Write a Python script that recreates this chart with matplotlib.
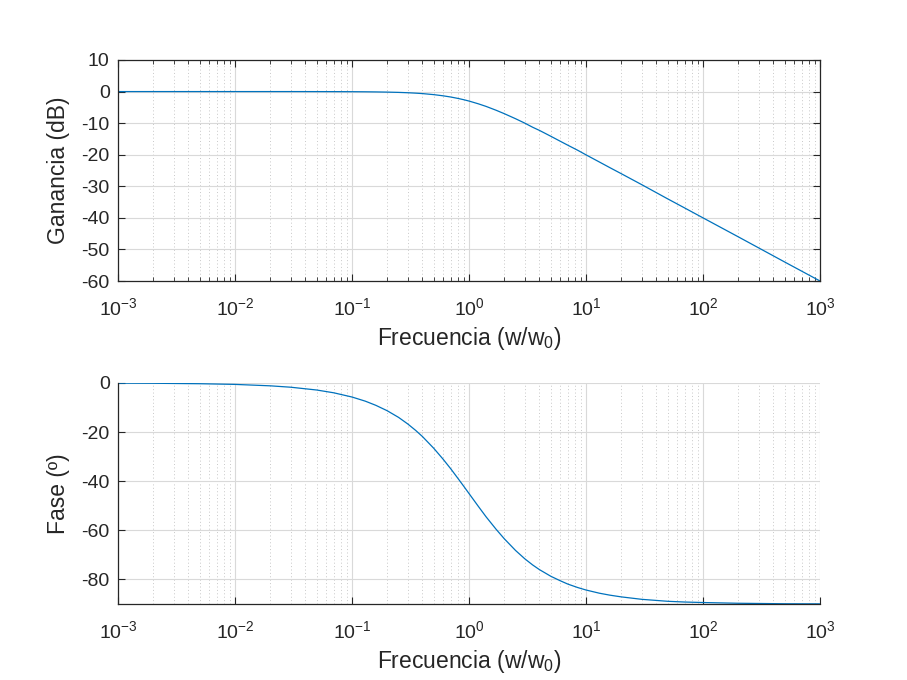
#!/usr/bin/env python3
"""
Diagrama de Bode de un filtro paso bajo de primer orden
"""

import matplotlib
matplotlib.use('Agg')
import matplotlib.pyplot as plt
from matplotlib.ticker import LogLocator, NullFormatter

frecuencia = [1e-3, 2e-3, 5e-3, 1e-2, 2e-2, 3e-2, 0.05, 0.07, 0.1, 0.13, 0.16,
              0.2, 0.25, 0.3, 0.35, 0.4, 0.5, 0.6, 0.7, 0.8, 0.9, 1.0, 1.2,
              1.4, 1.7, 2.0, 2.5, 3.0, 3.5, 4.0, 5.0, 6.0, 7.0, 8.5, 10.0,
              13.0, 16.0, 20.0, 30.0, 50.0, 70.0, 100.0, 200.0, 500.0, 1000.0]
ganancia_db = [0.0, 0.0, 0.0, 0.0, 0.0, 0.0, -0.01, -0.02, -0.04, -0.07,
               -0.11, -0.17, -0.26, -0.37, -0.5, -0.64, -0.97, -1.34, -1.73,
               -2.15, -2.57, -3.0, -3.87, -4.7, -5.9, -6.99, -8.6, -10.0,
               -11.3, -12.3, -14.15, -15.7, -17.0, -18.6, -20.04, -22.3, -24.1,
               -26.0, -29.5, -34.0, -36.9, -40.0, -46.0, -54.0, -60.0]
fase_grados = [-0.06, -0.11, -0.29, -0.57, -1.15, -1.72, -2.86, -4.0, -5.71,
               -7.4, -9.1, -11.3, -14.0, -16.7, -19.3, -21.8, -26.6, -31.0,
               -35.0, -38.7, -42.0, -45.0, -50.2, -54.5, -59.5, -63.4, -68.2,
               -71.6, -74.1, -76.0, -78.7, -80.5, -81.9, -83.3, -84.3, -85.6,
               -86.4, -87.1, -88.1, -88.9, -89.2, -89.4, -89.7, -89.9, -89.94]

plt.rcParams['font.family'] = ['Liberation Sans', 'DejaVu Sans']
plt.rcParams['mathtext.default'] = 'regular'
plt.rcParams['axes.unicode_minus'] = False
plt.rcParams['font.size'] = 14

color_linea = '#0072BD'
color_ejes = '#262626'

fig = plt.figure(figsize=(9.07, 6.8), dpi=100)
ax1 = fig.add_axes([118 / 907, 1 - 281 / 680, 702 / 907, 221 / 680])
ax2 = fig.add_axes([118 / 907, 1 - 604 / 680, 702 / 907, 221 / 680])

for ax in (ax1, ax2):
    ax.set_xscale('log')
    ax.set_xlim(1e-3, 1e3)
    ax.xaxis.set_major_locator(LogLocator(base=10, numticks=10))
    ax.xaxis.set_minor_locator(LogLocator(base=10, subs=range(2, 10), numticks=20))
    ax.xaxis.set_minor_formatter(NullFormatter())
    ax.grid(True, which='major', color='#d9d9d9', linewidth=0.8, linestyle='-')
    ax.grid(True, which='minor', axis='x', color='#c8c8c8', linewidth=0.7,
            linestyle=(0, (1, 2.5)))
    ax.set_axisbelow(True)
    ax.set_xlabel('Frecuencia (w/w$_0$)', color=color_ejes, fontsize=16.5,
                  labelpad=4)
    ax.tick_params(which='both', direction='in', colors=color_ejes, labelsize=14)
    ax.tick_params(axis='x', which='major', pad=12)
    ax.tick_params(axis='y', which='major', pad=6)
    for sp in ax.spines.values():
        sp.set_color(color_ejes)
        sp.set_linewidth(0.9)

# Ganancia
ax1.plot(frecuencia, ganancia_db, color=color_linea, linewidth=0.9)
ax1.set_ylim(-60, 10)
ax1.set_yticks(range(-60, 11, 10))
ax1.set_ylabel('Ganancia (dB)', color=color_ejes, fontsize=16.5, labelpad=8)
ax1.tick_params(which='both', top=True, right=True)
ax1.tick_params(which='major', length=5)
ax1.tick_params(which='minor', length=3)

# Fase
ax2.plot(frecuencia, fase_grados, color=color_linea, linewidth=0.9)
ax2.set_ylim(-90, 0)
ax2.set_yticks([-80, -60, -40, -20, 0])
ax2.set_ylabel('Fase (º)', color=color_ejes, fontsize=16.5, labelpad=8)
ax2.spines['top'].set_visible(False)
ax2.spines['right'].set_visible(False)
ax2.tick_params(which='minor', bottom=False)
ax2.tick_params(which='major', length=5)

fig.savefig('out.png', dpi=100)
